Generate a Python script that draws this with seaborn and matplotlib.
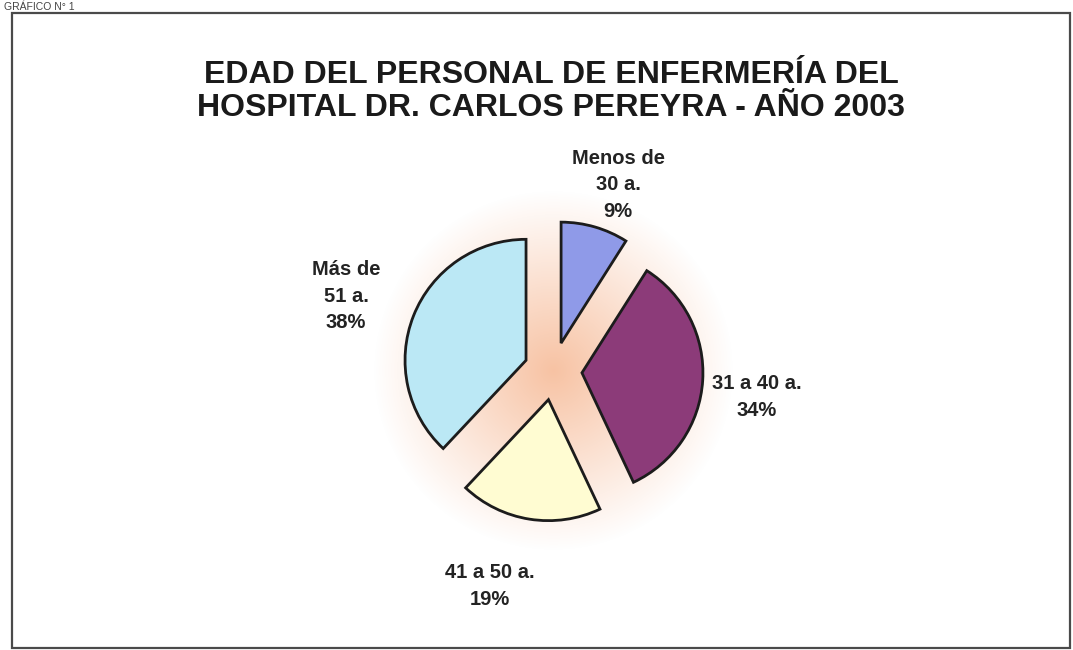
import numpy as np
import matplotlib
matplotlib.use("Agg")
import matplotlib.pyplot as plt
from matplotlib.patches import Rectangle
import seaborn as sns

# data
categories = ["Menos de\n30 a.", "31 a 40 a.", "41 a 50 a.", "Más de\n51 a."]
percentages = [9, 34, 19, 38]
slice_colors = ["#8f9ae8", "#8c3b79", "#fffcd2", "#bbe8f5"]
title_lines = ["EDAD DEL PERSONAL DE ENFERMERÍA DEL",
               "HOSPITAL DR. CARLOS PEREYRA - AÑO 2003"]
corner_note = "GRÁFICO N° 1"

# layout: label centres in image pixels (from top-left)
label_xy_px = [(618, 185), (757, 397), (490, 586), (346, 296)]

sns.set_theme(style="white")
plt.rcParams["font.family"] = ["Liberation Sans", "DejaVu Sans"]

W, H = 1073, 650
fig = plt.figure(figsize=(W / 100, H / 100), dpi=100)
fig.patch.set_facecolor("white")
ax = fig.add_axes([0, 0, 1, 1])

# pie geometry in pixel units (y measured upward)
cx, cy = 553, H - 371
radius = 121
explode_px = 29

# soft peach glow behind the pie
yy, xx = np.mgrid[0:H, 0:W]
dist = np.hypot(xx - cx, yy - cy)
glow = np.zeros((H, W, 4))
glow[..., 0] = 0.97
glow[..., 1] = 0.75
glow[..., 2] = 0.62
glow[..., 3] = np.clip(1 - dist / 180, 0, 1) ** 1.0 * 0.95
ax.imshow(glow, extent=(0, W, 0, H), origin="lower", zorder=0)

labels = [f"{c}\n{p}%" for c, p in zip(categories, percentages)]
wedges, texts = ax.pie(
    percentages,
    labels=labels,
    colors=slice_colors,
    startangle=90,
    counterclock=False,
    explode=[explode_px] * len(percentages),
    radius=radius,
    center=(cx, cy),
    labeldistance=1.5,
    wedgeprops=dict(edgecolor="#1c1c1c", linewidth=2.0),
    textprops=dict(fontsize=14.5, fontweight="bold", color="#232323"),
)
for t, (lx, ly) in zip(texts, label_xy_px):
    t.set_position((lx, H - ly))
    t.set_horizontalalignment("center")
    t.set_verticalalignment("center")
    t.set_multialignment("center")
    t.set_linespacing(1.5)

ax.set_xlim(0, W)
ax.set_ylim(0, H)
ax.set_aspect("equal", adjustable="box")
ax.axis("off")

# title, two lines
for i, line in enumerate(title_lines):
    fig.text(551 / W, 1 - (75 + 33 * i) / H, line, ha="center", va="center",
             fontsize=23, fontweight="bold", color="#1a1a1a")

# caption above the frame (cut off in the scan, kept small here)
fig.text(4 / W, 1 - 1.5 / H, corner_note, ha="left", va="top",
         fontsize=7.5, color="#444444")

# frame around the chart
fig.add_artist(Rectangle((12 / W, (H - 648) / H), (1070 - 12) / W, (648 - 13) / H,
                         transform=fig.transFigure, fill=False,
                         edgecolor="#4a4a4a", linewidth=1.6))

fig.savefig("out.png", dpi=100, facecolor="white")
